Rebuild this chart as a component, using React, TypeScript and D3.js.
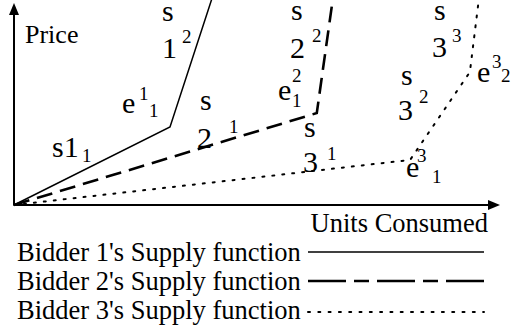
import React from "react";
import * as d3 from "d3";

const W = 511;
const H = 333;

// Supply functions (x = units, y = price), domain 0..100
const bidder1: [number, number][] = [[0, 0], [32.1, 38.6], [40.7, 102]];
const bidder2: [number, number][] = [[0, 0], [62.3, 45.5], [65.6, 102]];
const bidder3: [number, number][] = [[0, 0], [81.5, 22.3], [93.8, 65.8], [95.5, 99]];

const legendLabels = [
  "Bidder 1's Supply function",
  "Bidder 2's Supply function",
  "Bidder 3's Supply function",
];
const axisLabels = { x: "Units Consumed", y: "Price" };

// annotation glyphs: [text, kind, px x, px baseline]
type Ann = [string, "m" | "sup" | "sub", number, number];
const annotations: Ann[] = [
  ["s", "m", 162, 21], ["1", "m", 162, 58], ["2", "sup", 182, 43],
  ["e", "m", 122, 113], ["1", "sup", 139, 100], ["1", "sub", 149, 117],
  ["s1", "m", 52, 157], ["1", "sub", 82, 162],
  ["s", "m", 200, 110], ["2", "m", 197, 148], ["1", "sup", 229, 133],
  ["s", "m", 291, 20], ["2", "m", 290, 58], ["2", "sup", 312, 42],
  ["e", "m", 278, 100], ["2", "sup", 292, 82], ["1", "sub", 292, 107],
  ["s", "m", 304, 137], ["3", "m", 303, 172], ["1", "sup", 327, 160],
  ["s", "m", 401, 85], ["3", "m", 398, 120], ["2", "sup", 419, 103],
  ["s", "m", 434, 20], ["3", "m", 432, 57], ["3", "sup", 452, 42],
  ["e", "m", 477, 82], ["3", "sup", 492, 68], ["2", "sub", 501, 82],
  ["e", "m", 406, 177], ["3", "sup", 417, 162], ["1", "sub", 432, 183],
];

const FONT = "Liberation Serif";

export default function App() {
  const x = d3.scaleLinear().domain([0, 100]).range([14, 500]);
  const y = d3.scaleLinear().domain([0, 100]).range([205, 3]);
  const line = d3
    .line<[number, number]>()
    .x((d) => x(d[0]))
    .y((d) => y(d[1]));

  const styles = [
    { w: 1.5, dash: "none" },
    { w: 2.6, dash: "16,8" },
    { w: 2, dash: "2,8" },
  ];
  const legendDash = ["none", "38,8,15,8", "2,8.3"];
  const legendOffset = [9, 9, 7];
  const series = [bidder1, bidder2, bidder3];

  const ox = x(0);
  const oy = y(0);
  const legendTop = 261;
  const legendStep = 29;
  const ts = { fontFamily: FONT };

  return (
    <svg
      width={W}
      height={H}
      style={{ position: "absolute", left: 0, top: 0, background: "#fff" }}
    >
      <rect width={W} height={H} fill="#fff" />
      {/* axes */}
      <line x1={ox} y1={oy} x2={x(100) - 8} y2={oy} stroke="#000" strokeWidth={2} />
      <line x1={ox} y1={oy} x2={ox} y2={y(100) + 9} stroke="#000" strokeWidth={2} />
      <path d={`M${x(100)},${oy} L${x(100) - 12},${oy - 5} L${x(100) - 12},${oy + 5} Z`} fill="#000" />
      <path d={`M${ox},${y(100)} L${ox - 5},${y(100) + 12} L${ox + 5},${y(100) + 12} Z`} fill="#000" />
      <text x={25} y={43} fontSize={26} style={ts}>{axisLabels.y}</text>
      <text x={488} y={232} fontSize={26.5} textAnchor="end" style={ts}>{axisLabels.x}</text>

      {series.map((s, i) => (
        <path
          key={i}
          d={line(s) || ""}
          fill="none"
          stroke="#000"
          strokeWidth={styles[i].w}
          strokeDasharray={styles[i].dash}
          strokeLinecap={i === 2 ? "round" : "butt"}
        />
      ))}

      {annotations.map(([t, k, ax, ay], i) => (
        <text key={i} x={ax} y={ay} fontSize={k === "m" ? 30 : 19} style={ts}>
          {t}
        </text>
      ))}

      {legendLabels.map((l, i) => (
        <g key={i}>
          <text x={17} y={legendTop + i * legendStep} fontSize={26.5} style={ts}>{l}</text>
          <line
            x1={308}
            x2={484}
            y1={legendTop + i * legendStep - legendOffset[i]}
            y2={legendTop + i * legendStep - legendOffset[i]}
            stroke="#000"
            strokeWidth={i === 0 ? 1.5 : i === 1 ? 2.6 : 2}
            strokeDasharray={legendDash[i]}
            strokeLinecap={i === 2 ? "round" : "butt"}
          />
        </g>
      ))}
    </svg>
  );
}
